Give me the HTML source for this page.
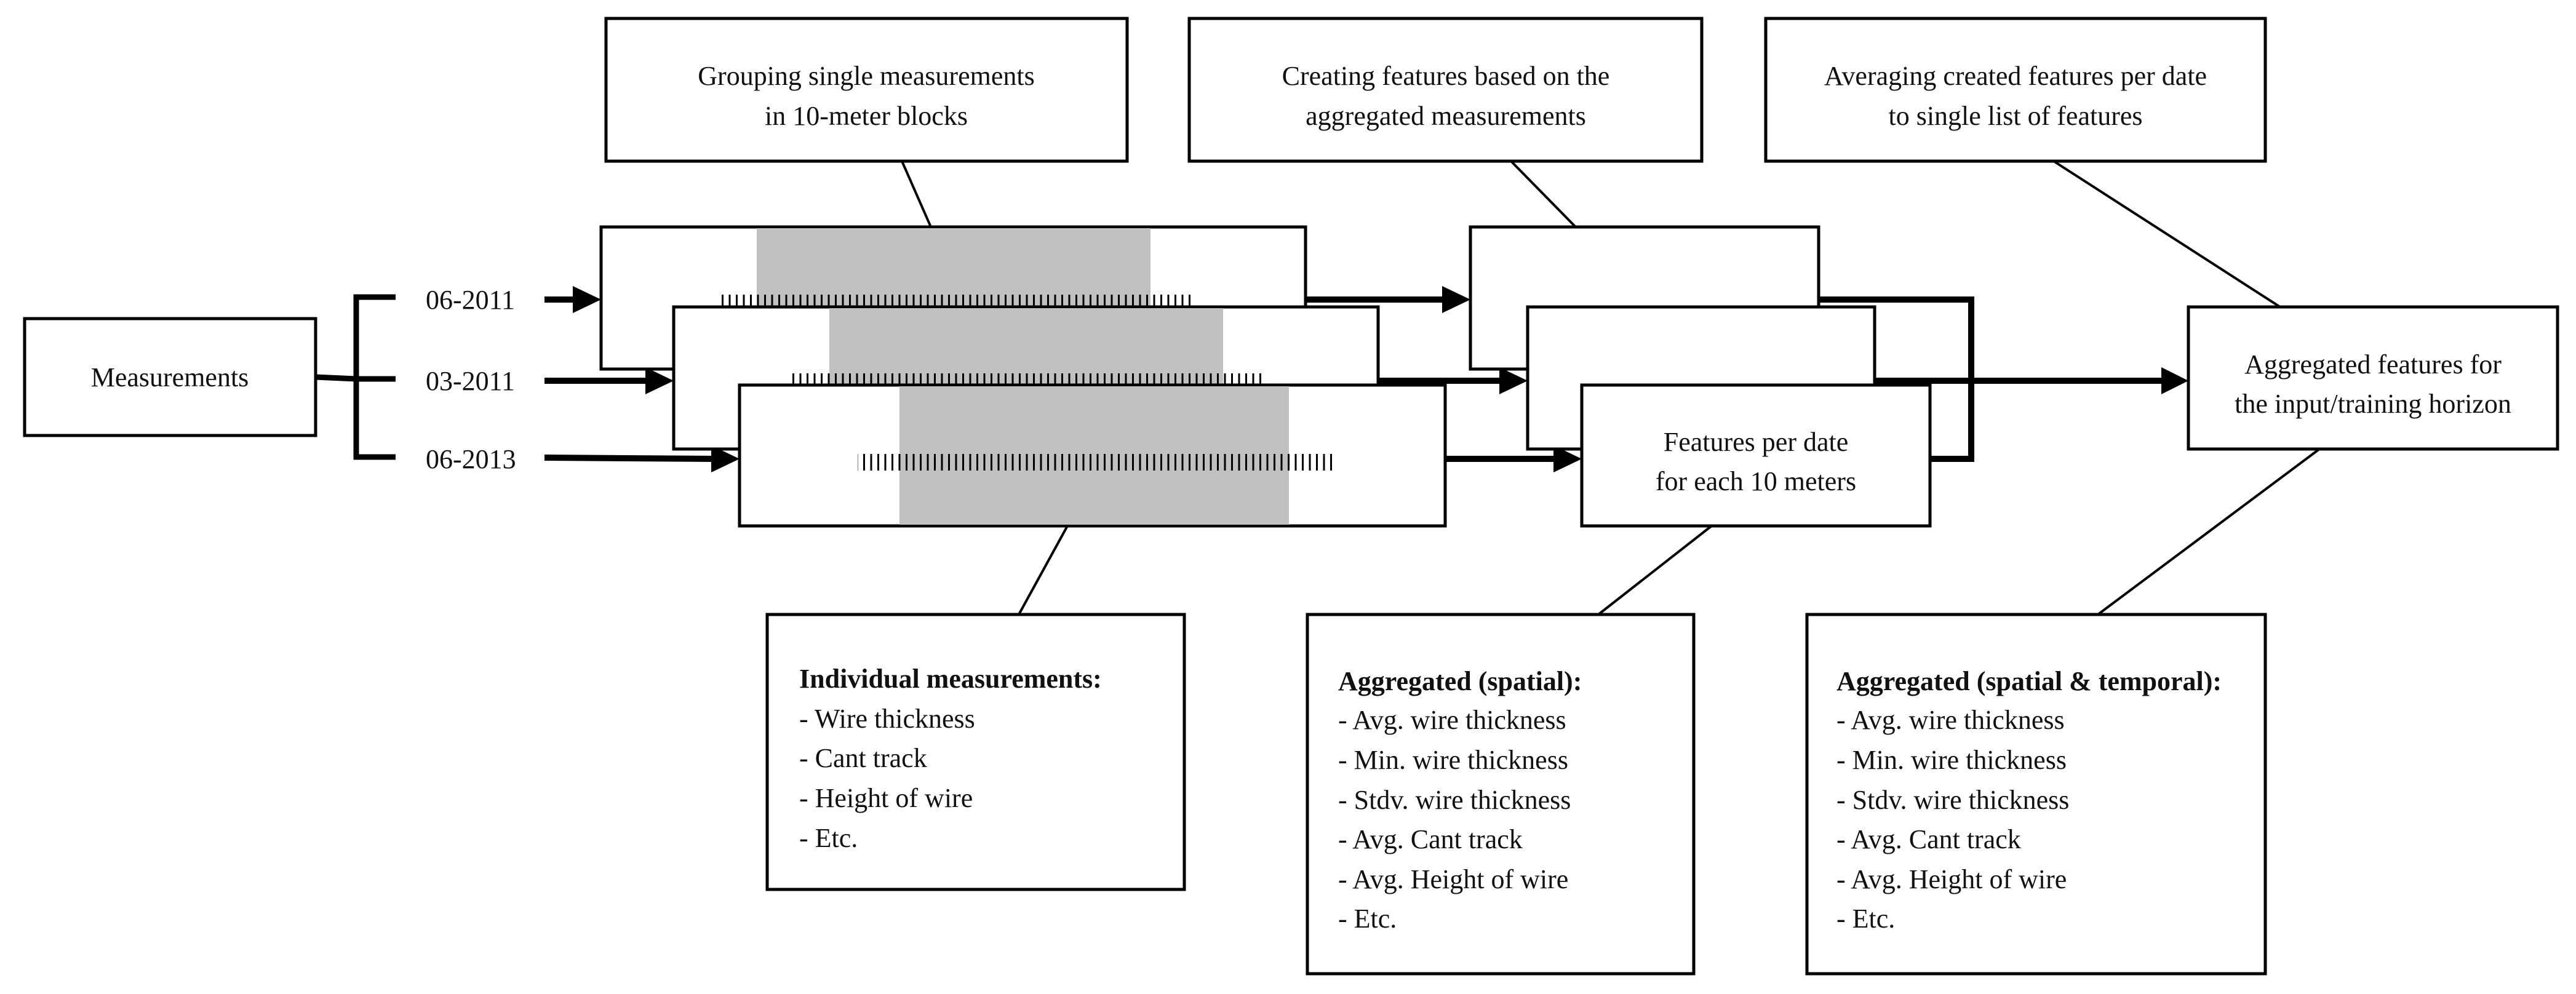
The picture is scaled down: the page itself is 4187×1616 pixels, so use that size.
<!DOCTYPE html>
<html><head><meta charset="utf-8"><style>
html,body{margin:0;padding:0;background:#fff;}
svg{display:block;}
text{font-family:"Liberation Serif",serif;font-size:44px;fill:#111;}
</style></head><body>
<svg width="4187" height="1616" viewBox="0 0 4187 1616" xmlns="http://www.w3.org/2000/svg">
<defs>
<pattern id="tk" x="0" y="0" width="11.5" height="40" patternUnits="userSpaceOnUse">
<rect x="0" y="0" width="3" height="40" fill="#000"/>
</pattern>
</defs>
<g stroke="#000" stroke-width="4" fill="none">
<line x1="1466" y1="262" x2="1513" y2="369"/>
<line x1="2456" y1="262" x2="2561" y2="369"/>
<line x1="3338" y1="262" x2="3706" y2="499"/>
<line x1="1735" y1="855" x2="1656" y2="999"/>
<line x1="2782" y1="855" x2="2598" y2="999"/>
<line x1="3770" y1="730" x2="3410" y2="999"/>
</g>
<g fill="#fff" stroke="#000" stroke-width="5">
<rect x="985" y="30" width="847" height="232"/>
<rect x="1933" y="30" width="833" height="232"/>
<rect x="2870" y="30" width="812" height="232"/>
<rect x="40" y="518" width="473" height="190"/>
<rect x="3557" y="499" width="600" height="231"/>
</g>
<text x="1408" y="138" text-anchor="middle">Grouping single measurements</text>
<text x="1408" y="203" text-anchor="middle">in 10-meter blocks</text>
<text x="2350" y="138" text-anchor="middle">Creating features based on the</text>
<text x="2350" y="203" text-anchor="middle">aggregated measurements</text>
<text x="3276" y="138" text-anchor="middle">Averaging created features per date</text>
<text x="3276" y="203" text-anchor="middle">to single list of features</text>
<text x="276" y="628" text-anchor="middle">Measurements</text>
<text x="3857" y="607" text-anchor="middle">Aggregated features for</text>
<text x="3857" y="671" text-anchor="middle">the input/training horizon</text>
<g stroke="#000" stroke-width="9" fill="none">
<line x1="513" y1="613" x2="579" y2="616"/>
<polyline points="643,483 579,483 579,743 643,743"/>
<line x1="579" y1="616" x2="643" y2="616"/>
</g>
<text x="692" y="502">06-2011</text>
<text x="692" y="634">03-2011</text>
<text x="692" y="761">06-2013</text>
<g stroke="#000" stroke-width="10">
<line x1="885" y1="487" x2="935" y2="487"/>
<line x1="885" y1="619" x2="1052" y2="619"/>
<line x1="885" y1="744" x2="1158" y2="746"/>
<line x1="2122" y1="487" x2="2346" y2="487"/>
<line x1="2240" y1="619" x2="2439" y2="619"/>
<line x1="2349" y1="746" x2="2527" y2="746"/>
<line x1="3047" y1="619" x2="3515" y2="619"/>
</g>
<g fill="#000">
<polygon points="931,465 977,487 931,509"/>
<polygon points="1049,597 1095,619 1049,641"/>
<polygon points="1156,724 1202,746 1156,768"/>
<polygon points="2344,465 2390,487 2344,509"/>
<polygon points="2437,597 2483,619 2437,641"/>
<polygon points="2525,724 2571,746 2525,768"/>
<polygon points="3513,597 3557,619 3513,641"/>
</g>
<polyline points="2956,487 3204,487 3204,746 3137,746" stroke="#000" stroke-width="10" fill="none"/>
<rect x="977" y="369" width="1145" height="231" fill="#fff" stroke="#000" stroke-width="5"/>
<rect x="1230" y="371" width="640" height="227" fill="#c0c0c0"/>
<rect x="1172" y="479" width="768" height="21" fill="url(#tk)"/>
<rect x="1095" y="499" width="1145" height="231" fill="#fff" stroke="#000" stroke-width="5"/>
<rect x="1348" y="501" width="640" height="227" fill="#c0c0c0"/>
<rect x="1286" y="607" width="772" height="20" fill="url(#tk)"/>
<rect x="1202" y="626" width="1147" height="229" fill="#fff" stroke="#000" stroke-width="5"/>
<rect x="1462" y="628" width="633" height="225" fill="#c0c0c0"/>
<rect x="1394" y="738" width="771" height="27" fill="url(#tk)"/>
<g fill="#fff" stroke="#000" stroke-width="5">
<rect x="2390" y="369" width="566" height="231"/>
<rect x="2483" y="499" width="564" height="231"/>
<rect x="2571" y="626" width="566" height="229"/>
</g>
<text x="2854" y="733" text-anchor="middle">Features per date</text>
<text x="2854" y="797" text-anchor="middle">for each 10 meters</text>
<g fill="#fff" stroke="#000" stroke-width="5">
<rect x="1247" y="999" width="678" height="447"/>
<rect x="2125" y="999" width="628" height="584"/>
<rect x="2937" y="999" width="745" height="584"/>
</g>
<g>
<text x="1299" y="1118" font-weight="bold">Individual measurements:</text>
<text x="1299" y="1183">- Wire thickness</text>
<text x="1299" y="1247">- Cant track</text>
<text x="1299" y="1312">- Height of wire</text>
<text x="1299" y="1377">- Etc.</text>

<text x="2175" y="1122" font-weight="bold">Aggregated (spatial):</text>
<text x="2175" y="1185">- Avg. wire thickness</text>
<text x="2175" y="1250">- Min. wire thickness</text>
<text x="2175" y="1315">- Stdv. wire thickness</text>
<text x="2175" y="1379">- Avg. Cant track</text>
<text x="2175" y="1444">- Avg. Height of wire</text>
<text x="2175" y="1508">- Etc.</text>

<text x="2985" y="1122" font-weight="bold">Aggregated (spatial &amp; temporal):</text>
<text x="2985" y="1185"> - Avg. wire thickness</text>
<text x="2985" y="1250">- Min. wire thickness</text>
<text x="2985" y="1315">- Stdv. wire thickness</text>
<text x="2985" y="1379">- Avg. Cant track</text>
<text x="2985" y="1444">- Avg. Height of wire</text>
<text x="2985" y="1508">- Etc.</text>
</g>
</svg>
</body></html>
